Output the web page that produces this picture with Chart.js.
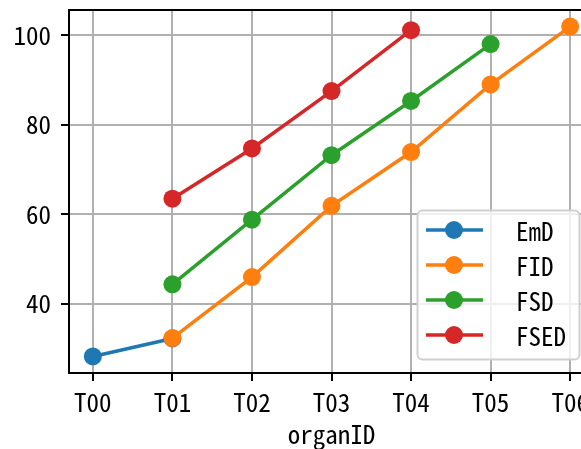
<!DOCTYPE html>
<html><head><meta charset="utf-8">
<script src="https://cdn.jsdelivr.net/npm/chart.js@4"></script>
<style>html,body{margin:0;padding:0;background:#fff;overflow:hidden;width:581px;height:449px}</style>
</head><body>
<canvas id="c" width="620" height="449" style="display:block;width:620px;height:449px"></canvas>
<script>
const categories = ['T00', 'T01', 'T02', 'T03', 'T04', 'T05', 'T06'];
const emdValues  = [28.3, 32.3, null, null, null, null, null];
const fidValues  = [null, 32.4, 46.0, 61.9, 73.9, 89.0, 101.9];
const fsdValues  = [null, 44.4, 58.8, 73.2, 85.3, 98.0, null];
const fsedValues = [null, 63.5, 74.7, 87.5, 101.1, null, null];
const seriesNames = ['EmD', 'FID', 'FSD', 'FSED'];
const yTickValues = [40, 60, 80, 100];

const FONT = '"Noto Sans Mono CJK SC", "Noto Sans CJK SC", sans-serif';
const FS = 25;
const colors = ['#1f77b4', '#ff7f0e', '#2ca02c', '#d62728'];
const allValues = [emdValues, fidValues, fsdValues, fsedValues];

function toPoints(vals) {
  return vals.map((v, i) => v == null ? null : {x: i, y: v}).filter(p => p);
}

const datasets = seriesNames.map((name, i) => ({
  label: name,
  data: toPoints(allValues[i]),
  borderColor: colors[i],
  backgroundColor: colors[i],
  pointBackgroundColor: colors[i],
  pointBorderWidth: 0,
  pointRadius: 9,
  pointHoverRadius: 9,
  borderWidth: 3.5,
  tension: 0,
  order: seriesNames.length - i
}));

const framePlugin = {
  id: 'frame',
  afterDatasetsDraw(chart) {
    const {ctx, chartArea: a} = chart;
    ctx.save();
    ctx.strokeStyle = '#000';
    ctx.lineWidth = 2;
    ctx.beginPath();
    ctx.moveTo(a.left - 1, a.top);
    ctx.lineTo(a.right + 1, a.top);
    ctx.stroke();
    ctx.restore();
  }
};

const legendPlugin = {
  id: 'mplLegend',
  afterDraw(chart) {
    const {ctx, chartArea: a} = chart;
    const w = 162, h = 149;
    const right = a.right - 15, bottom = a.bottom - 14;
    const left = right - w, top = bottom - h;
    ctx.save();
    ctx.beginPath();
    if (ctx.roundRect) ctx.roundRect(left + 0.5, top + 0.5, w, h, 5); else ctx.rect(left + 0.5, top + 0.5, w, h);
    ctx.fillStyle = 'rgba(255,255,255,0.8)';
    ctx.fill();
    ctx.strokeStyle = '#d0d0d0';
    ctx.lineWidth = 2;
    ctx.stroke();
    ctx.font = FS + 'px ' + FONT;
    ctx.textBaseline = 'middle';
    ctx.textAlign = 'left';
    chart.data.datasets.forEach((ds, i) => {
      const y = top + 20 + 35 * i;
      ctx.strokeStyle = ds.borderColor;
      ctx.lineWidth = 3.5;
      ctx.beginPath();
      ctx.moveTo(left + 9, y);
      ctx.lineTo(left + 66, y);
      ctx.stroke();
      ctx.fillStyle = ds.borderColor;
      ctx.beginPath();
      ctx.arc(left + 37, y, 9, 0, Math.PI * 2);
      ctx.fill();
      ctx.fillStyle = '#000';
      ctx.fillText(ds.label, left + 99, y + 1);
    });
    ctx.restore();
  }
};

new Chart(document.getElementById('c').getContext('2d'), {
  type: 'line',
  data: {datasets},
  options: {
    responsive: false,
    animation: false,
    devicePixelRatio: 1,
    layout: {padding: {left: 0, top: 10, right: 26, bottom: 0}},
    plugins: {legend: {display: false}, tooltip: {enabled: false}},
    scales: {
      x: {
        type: 'linear', min: -0.3, max: 6.3,
        afterBuildTicks: s => { s.ticks = categories.map((c, i) => ({value: i})); },
        afterFit: s => { s.height = 76; s.paddingLeft = 0; s.paddingRight = 0; },
        ticks: {
          callback: v => categories[v],
          font: {family: FONT, size: FS}, color: '#000', padding: 6,
          maxRotation: 0, autoSkip: false
        },
        grid: {color: '#b0b0b0', lineWidth: 2, tickColor: '#000', tickLength: 8, tickWidth: 2},
        border: {color: '#000', width: 2},
        title: {display: true, text: 'organID', font: {family: FONT, size: FS}, color: '#000', padding: {top: 0, bottom: 0}}
      },
      y: {
        min: 24.6, max: 105.6,
        afterBuildTicks: s => { s.ticks = yTickValues.map(v => ({value: v})); },
        afterFit: s => { s.width = 69; s.paddingTop = 0; s.paddingBottom = 0; },
        ticks: {callback: v => String(v), font: {family: FONT, size: FS}, color: '#000', padding: 10},
        grid: {color: '#b0b0b0', lineWidth: 2, tickColor: '#000', tickLength: 8, tickWidth: 2},
        border: {color: '#000', width: 2}
      }
    }
  },
  plugins: [framePlugin, legendPlugin]
});
</script>
</body></html>
